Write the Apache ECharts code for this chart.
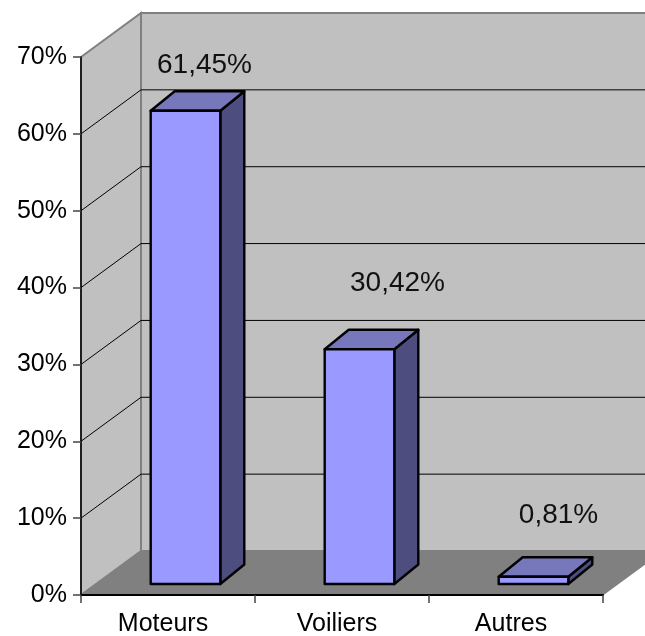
<!DOCTYPE html>
<html><head><meta charset="utf-8">
<style>html,body{margin:0;padding:0;background:#fff}#c{width:645px;height:636px}</style>
<script src="https://cdn.jsdelivr.net/npm/echarts@6/dist/echarts.min.js"></script>
</head><body><div id="c"></div>
<script>
const categories = ['Moteurs', 'Voiliers', 'Autres'];
const shares = [61.45, 30.42, 0.81];
const shareLabels = ['61,45%', '30,42%', '0,81%'];
const gridLevels = [10, 20, 30, 40, 50, 60];

// perspective layout of the fake-3D plot
const WALL_DX = 60, WALL_DY = -44;
const BAR_DX = 17.5, BAR_DY = -11, BAR_DEPTH_X = 24, BAR_DEPTH_Y = -19.5;
const labelShift = [[-5, -27], [14, -47], [1, -43]];
const FONT = '"Liberation Sans", Arial, sans-serif';

const chart = echarts.init(document.getElementById('c'), null, {renderer: 'canvas'});

function wallsItem(params, api) {
  const s = params.coordSys;
  const L = s.x, R = s.x + s.width, T = s.y, B = s.y + s.height;
  const st = {stroke: '#808080', lineWidth: 2, lineJoin: 'miter'};
  return {type: 'group', silent: true, children: [
    {type: 'polygon', shape: {points: [[L + WALL_DX, T + WALL_DY], [R + WALL_DX, T + WALL_DY], [R + WALL_DX, B + WALL_DY], [L + WALL_DX, B + WALL_DY]]},
      style: Object.assign({fill: '#C0C0C0'}, st)},
    {type: 'polygon', shape: {points: [[L, T], [L + WALL_DX, T + WALL_DY], [L + WALL_DX, B + WALL_DY], [L, B]]},
      style: Object.assign({fill: '#C0C0C0'}, st)},
    {type: 'polygon', shape: {points: [[L, B], [L + WALL_DX, B + WALL_DY], [R + WALL_DX, B + WALL_DY], [R, B]]},
      style: {fill: '#808080', stroke: '#808080', lineWidth: 1}}
  ]};
}

function gridItem(params, api) {
  const s = params.coordSys;
  const y = api.coord([0, api.value(1)])[1];
  const L = s.x, R = s.x + s.width;
  return {type: 'polyline', silent: true,
    shape: {points: [[L, y], [L + WALL_DX, y + WALL_DY], [R + WALL_DX, y + WALL_DY]]},
    style: {stroke: '#000', lineWidth: 1, fill: null}};
}

function barItem(params, api) {
  const i = api.value(0);
  const c = api.coord([i, api.value(1)]);
  const b = api.coord([i, 0]);
  const hw = api.size([1, 0])[0] * 0.4 / 2;
  const x0 = c[0] + BAR_DX - hw, x1 = c[0] + BAR_DX + hw;
  const yT = c[1] + BAR_DY - 1, yB = b[1] + BAR_DY;
  const dx = BAR_DEPTH_X, dy = BAR_DEPTH_Y;
  const edge = {stroke: '#000', lineWidth: 2.4, lineJoin: 'round'};
  return {type: 'group', children: [
    {type: 'polygon', shape: {points: [[x1, yT], [x1 + dx, yT + dy], [x1 + dx, yB + dy], [x1, yB]]},
      style: Object.assign({fill: '#4D4D80'}, edge)},
    {type: 'polygon', shape: {points: [[x0, yT], [x0 + dx, yT + dy], [x1 + dx, yT + dy], [x1, yT]]},
      style: Object.assign({fill: '#7777BB'}, edge)},
    {type: 'rect', shape: {x: x0, y: yT, width: x1 - x0, height: yB - yT},
      style: Object.assign({fill: '#9999FF'}, edge)},
    {type: 'text', style: {
      text: shareLabels[i],
      x: (x0 + x1) / 2 + dx + labelShift[i][0],
      y: yT + dy + labelShift[i][1] + 1,
      align: 'center', verticalAlign: 'middle',
      font: '28px ' + FONT, fill: '#111'}}
  ]};
}

chart.setOption({
  animation: false,
  backgroundColor: '#fff',
  grid: {left: 81, right: 42, top: 57, bottom: 41, containLabel: false, outerBoundsMode: 'none'},
  xAxis: {type: 'category', data: categories, z: 5,
    axisLine: {lineStyle: {color: '#000', width: 2}},
    axisTick: {show: true, length: 8, lineStyle: {color: '#444', width: 1.5}},
    axisLabel: {color: '#000', fontFamily: FONT, fontSize: 25, margin: 17, padding: [0, 10, 0, 0]}},
  yAxis: {type: 'value', min: 0, max: 70, interval: 10, z: 5,
    splitLine: {show: false},
    axisLine: {show: true, lineStyle: {color: '#000', width: 1.5}},
    axisTick: {show: true, length: 8, lineStyle: {color: '#444', width: 1.5}},
    axisLabel: {color: '#000', fontFamily: FONT, fontSize: 25, margin: 14, formatter: '{value}%'}},
  series: [
    {type: 'custom', name: 'walls', coordinateSystem: 'cartesian2d', clip: false, z: 1,
      data: [[0, 0]], renderItem: wallsItem, silent: true},
    {type: 'custom', name: 'grid', coordinateSystem: 'cartesian2d', clip: false, z: 2,
      data: gridLevels.map(v => [0, v]), encode: {x: 0, y: 1}, renderItem: gridItem, silent: true},
    {type: 'custom', name: 'Part', coordinateSystem: 'cartesian2d', clip: false, z: 3,
      data: categories.map((c, i) => [i, shares[i]]), encode: {x: 0, y: 1}, renderItem: barItem}
  ]
});
</script></body></html>
